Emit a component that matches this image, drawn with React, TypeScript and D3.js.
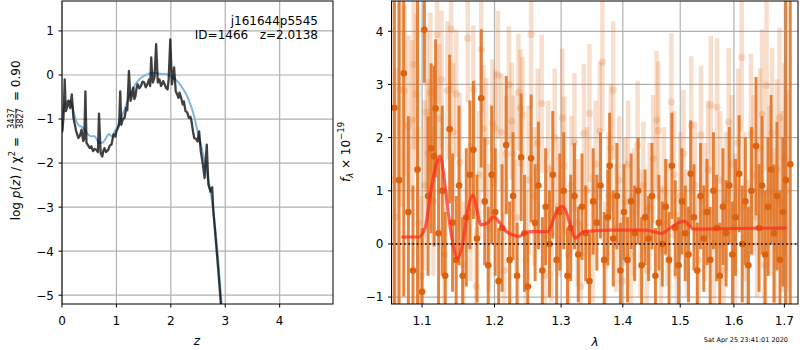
import React from 'react'
import * as d3 from 'd3'

// ---- left panel: log p(z) ----
const zBlack = [0.0, 0.01, 0.03, 0.05, 0.07, 0.09, 0.12, 0.15, 0.18, 0.21, 0.24, 0.26, 0.28, 0.30, 0.33, 0.36, 0.39, 0.41, 0.43, 0.45, 0.48, 0.51, 0.54, 0.57, 0.60, 0.63, 0.66, 0.68, 0.71, 0.74, 0.76, 0.78, 0.81, 0.85, 0.88, 0.91, 0.93, 0.95, 0.98, 1.00, 1.03, 1.05, 1.07, 1.09, 1.12, 1.15, 1.18, 1.20, 1.23, 1.26, 1.28, 1.31, 1.33, 1.35, 1.37, 1.39, 1.42, 1.45, 1.48, 1.51, 1.54, 1.57, 1.60, 1.62, 1.64, 1.66, 1.67, 1.70, 1.73, 1.76, 1.79, 1.82, 1.86, 1.89, 1.91, 1.94, 1.96, 1.99, 2.02, 2.04, 2.06, 2.09, 2.12, 2.14, 2.16, 2.18, 2.22, 2.24, 2.27, 2.30, 2.33, 2.36, 2.38, 2.41, 2.43, 2.46, 2.49, 2.52, 2.55, 2.59, 2.62, 2.66, 2.69, 2.73, 2.76, 2.78, 2.85, 2.92, 3.0]
const pzBlack = [-1.3, -1.24, -0.9, -0.1, -0.82, -0.75, -0.59, -0.75, -0.44, -0.97, -1.15, -1.28, -1.35, -1.43, -1.38, -1.24, -1.5, -1.45, -0.37, -1.54, -1.6, -1.66, -1.62, -1.73, -1.68, -1.7, -1.75, -0.88, -1.77, -1.85, -1.72, -1.66, -1.75, -1.7, -1.6, -1.58, -1.45, -1.35, -1.4, -1.28, -1.2, -1.13, -0.37, -1.13, -1.0, -0.97, -0.75, -0.8, 0.09, -0.59, -0.5, -0.29, -0.55, -0.48, -0.3, -0.21, -0.3, -0.25, -0.15, -0.17, -0.28, -0.21, -0.1, -0.25, 0.4, -0.1, -0.17, -0.05, 0.7, -0.17, -0.1, -0.25, -0.14, -0.22, -0.29, -0.33, -0.1, 0.81, -0.21, -0.05, 0.17, -0.37, -0.45, -0.52, -0.4, -0.48, -0.67, -0.6, -0.82, -0.85, -0.97, -0.95, -1.05, -1.3, -1.43, -1.45, -1.51, -1.28, -1.73, -2.04, -2.34, -1.58, -2.49, -2.65, -2.55, -3.07, -4.1, -5.2, -6.4]

const zBlue = [0.0, 0.01, 0.05, 0.12, 0.18, 0.24, 0.30, 0.39, 0.48, 0.54, 0.60, 0.64, 0.69, 0.74, 0.81, 0.86, 0.91, 0.97, 1.06, 1.15, 1.24, 1.33, 1.42, 1.51, 1.60, 1.70, 1.79, 1.91, 2.03, 2.12, 2.21, 2.30, 2.36, 2.43, 2.49, 2.55, 2.61, 2.67, 2.73, 2.80, 2.87, 2.94, 3.0]
const pzBlue = [-0.95, -0.9, -0.67, -0.58, -0.67, -0.97, -1.13, -1.2, -1.35, -1.39, -1.39, -1.47, -1.54, -1.54, -1.43, -1.34, -1.39, -1.28, -1.05, -0.78, -0.48, -0.25, -0.1, -0.02, 0.03, 0.05, 0.03, 0.02, -0.05, -0.14, -0.29, -0.48, -0.67, -0.94, -1.28, -1.58, -1.89, -2.27, -2.65, -3.3, -4.2, -5.3, -6.2]

const zTicks = [0, 1, 2, 3, 4]
const pzTicks = [-5, -4, -3, -2, -1, 0, 1]

// ---- right panel: spectrum ----
const darkWave = [1.064, 1.070, 1.076, 1.082, 1.088, 1.094, 1.100, 1.103, 1.108, 1.112, 1.116, 1.118, 1.122, 1.127, 1.131, 1.137, 1.141, 1.146, 1.150, 1.155, 1.160, 1.165, 1.170, 1.175, 1.181, 1.186, 1.191, 1.196, 1.201, 1.206, 1.211, 1.217, 1.222, 1.227, 1.233, 1.239, 1.244, 1.249, 1.254, 1.260, 1.265, 1.271, 1.276, 1.282, 1.287, 1.293, 1.298, 1.304, 1.310, 1.315, 1.321, 1.327, 1.333, 1.339, 1.345, 1.351, 1.357, 1.363, 1.369, 1.375, 1.378, 1.384, 1.390, 1.396, 1.402, 1.408, 1.414, 1.420, 1.426, 1.432, 1.438, 1.444, 1.450, 1.456, 1.462, 1.468, 1.474, 1.480, 1.485, 1.491, 1.497, 1.503, 1.509, 1.515, 1.519, 1.525, 1.531, 1.537, 1.543, 1.549, 1.555, 1.561, 1.567, 1.573, 1.579, 1.585, 1.591, 1.597, 1.603, 1.610, 1.616, 1.622, 1.628, 1.634, 1.643, 1.649, 1.655, 1.661, 1.667, 1.673, 1.679, 1.685, 1.691, 1.697, 1.703, 1.712]
const darkFlux = [2.56, 1.2, 3.21, 0.6, -0.5, 1.4, -0.9, 4.03, 0.9, 1.8, 1.65, 2.55, 0.2, 1.0, -0.6, 2.16, 0.4, -0.3, 1.1, -0.6, 0.5, 1.3, 1.77, 0.1, 2.74, 0.8, -0.4, 1.3, 0.6, -0.7, 0.3, 1.86, -0.3, 0.9, -0.6, 1.63, 0.2, -0.8, 1.61, 0.4, 1.1, -0.5, 0.7, 0.0, 1.3, -0.3, 0.6, 1.0, -0.6, 0.3, 0.9, -0.2, 0.7, 0.2, -0.7, 0.8, 0.4, 1.1, -0.3, 0.5, 1.47, 0.1, 0.9, -0.5, 0.6, -0.3, 0.8, 0.2, 1.0, -0.4, 0.5, 0.1, 0.9, -0.6, 0.4, 0.0, 0.7, -0.3, 1.47, 0.3, -0.4, 0.8, 0.2, -0.2, 1.32, 0.5, -0.5, 0.9, 0.1, 0.6, -0.3, 1.0, 0.3, -0.6, 0.7, 0.2, 1.1, -0.2, 0.5, 1.32, 0.0, 0.8, -0.4, 1.0, 1.84, 0.3, 1.1, -0.2, 0.7, 1.4, 0.2, 0.9, -0.3, 0.6, 1.2, 1.5]
const darkErr = [4.0, 3.8, 4.2, 1.8, 1.6, 3.5, 1.2, 1.0, 1.5, 1.6, 1.7, 1.3, 1.4, 1.6, 1.2, 1.4, 1.3, 1.2, 1.5, 1.1, 1.3, 1.4, 1.3, 1.2, 1.3, 1.2, 1.1, 1.3, 1.2, 1.0, 1.2, 1.3, 1.1, 1.2, 1.0, 1.2, 1.1, 1.0, 1.2, 1.1, 1.2, 1.0, 1.1, 1.0, 1.2, 1.0, 1.1, 1.1, 0.9, 1.0, 1.0, 0.9, 1.0, 0.9, 0.9, 1.0, 0.9, 1.0, 0.9, 0.9, 1.0, 0.9, 1.0, 0.9, 0.9, 0.8, 0.9, 0.9, 1.0, 0.9, 0.9, 0.8, 1.0, 0.9, 0.9, 0.8, 0.9, 0.9, 1.0, 0.9, 0.9, 1.0, 0.9, 0.9, 1.0, 1.0, 0.9, 1.0, 1.0, 1.0, 1.0, 1.1, 1.0, 1.0, 1.1, 1.0, 1.1, 1.0, 1.1, 1.1, 1.1, 1.2, 1.1, 1.2, 1.3, 1.2, 1.3, 1.2, 1.3, 1.4, 1.3, 1.4, 1.3, 1.4, 6.0, 6.0]

const paleWave = [1.061, 1.066, 1.071, 1.077, 1.082, 1.087, 1.089, 1.092, 1.095, 1.099, 1.103, 1.106, 1.108, 1.111, 1.115, 1.120, 1.123, 1.126, 1.130, 1.134, 1.139, 1.142, 1.146, 1.151, 1.156, 1.162, 1.166, 1.170, 1.174, 1.178, 1.181, 1.184, 1.188, 1.192, 1.197, 1.201, 1.205, 1.210, 1.214, 1.217, 1.221, 1.225, 1.228, 1.232, 1.235, 1.238, 1.241, 1.246, 1.250, 1.254, 1.259, 1.264, 1.270, 1.275, 1.280, 1.285, 1.290, 1.296, 1.302, 1.305, 1.311, 1.316, 1.321, 1.326, 1.331, 1.336, 1.341, 1.345, 1.350, 1.355, 1.362, 1.366, 1.371, 1.376, 1.380, 1.384, 1.389, 1.394, 1.399, 1.404, 1.409, 1.414, 1.419, 1.425, 1.430, 1.435, 1.441, 1.446, 1.452, 1.458, 1.461, 1.466, 1.471, 1.477, 1.484, 1.489, 1.494, 1.500, 1.506, 1.512, 1.520, 1.527, 1.533, 1.538, 1.545, 1.551, 1.556, 1.562, 1.568, 1.574, 1.580, 1.585, 1.590, 1.596, 1.602, 1.608, 1.615, 1.620, 1.626, 1.633, 1.638, 1.645, 1.651, 1.655, 1.660, 1.664, 1.670, 1.675, 1.680, 1.685, 1.690, 1.695, 1.700, 1.706]
const paleFlux = [1.2, 0.5, 2.9, 2.88, 2.22, 2.33, 3.38, 2.83, 0.4, -0.6, 1.1, 2.48, 1.7, 2.85, 0.8, 3.94, 2.36, 3.09, -0.2, 2.89, 4.04, 2.11, 2.83, 1.54, -0.4, 3.87, 0.6, 2.91, -0.8, 1.3, 3.66, 2.17, 1.92, 0.3, 2.27, 2.18, 3.18, 2.1, -0.5, 1.69, 2.99, 2.31, 1.69, 0.5, 2.85, 2.56, 2.42, -0.3, 1.2, 3.94, 0.9, 1.9, 2.64, -0.6, 1.4, 0.2, 2.0, 0.7, 2.37, 1.47, -0.2, 1.1, 1.91, 0.4, -0.8, 2.08, 1.0, 2.46, 0.1, 1.5, 2.12, 3.42, -0.4, 0.9, 1.8, 2.89, 0.3, 1.2, -0.7, 0.8, 1.5, -0.2, 0.6, 1.86, 0.2, 1.1, -0.5, 0.7, 1.6, 2.33, 2.13, -0.1, 1.0, 0.4, 2.67, 1.3, -0.6, 0.9, 1.7, 0.2, 2.23, 1.1, -0.3, 2.05, 0.6, 1.4, 2.61, 0.0, 2.57, 1.2, -0.5, 0.8, 2.29, 1.5, 0.3, 1.9, 3.51, 0.7, -0.2, 2.08, 1.3, 0.5, 1.8, 2.44, -0.4, 2.98, 1.0, 2.09, 0.2, 1.4, 2.37, 0.8, 1.6, 1.0]
const paleErr = [4.5, 2.8, 2.2, 1.6, 1.7, 1.5, 1.6, 1.5, 1.8, 1.5, 1.6, 1.5, 1.4, 1.5, 1.4, 1.3, 1.4, 1.3, 1.3, 1.3, 1.2, 1.3, 1.2, 1.3, 1.2, 1.2, 1.3, 1.2, 1.1, 1.2, 1.2, 1.2, 1.2, 1.2, 1.2, 1.1, 1.2, 1.1, 1.1, 1.1, 1.1, 1.1, 1.1, 1.1, 1.1, 1.1, 1.1, 1.3, 1.4, 1.4, 1.3, 1.4, 1.3, 1.3, 1.3, 1.3, 1.3, 1.3, 1.3, 1.3, 1.2, 1.3, 1.3, 1.2, 1.2, 1.3, 1.2, 1.3, 1.2, 1.2, 1.3, 1.3, 1.2, 1.2, 1.2, 1.3, 1.2, 1.2, 1.2, 1.2, 1.2, 1.1, 1.2, 1.2, 1.2, 1.2, 1.2, 1.2, 1.2, 1.3, 1.3, 1.2, 1.2, 1.2, 1.3, 1.2, 1.2, 1.2, 1.2, 1.2, 1.3, 1.2, 1.2, 1.3, 1.3, 1.3, 1.3, 1.3, 1.3, 1.3, 1.3, 1.3, 1.4, 1.3, 1.4, 1.4, 1.4, 1.4, 1.4, 1.5, 1.5, 1.5, 1.5, 1.6, 1.5, 1.6, 1.6, 1.6, 1.6, 1.7, 1.7, 1.7, 1.8, 1.9]

const modelWave = [1.073, 1.095, 1.104, 1.112, 1.118, 1.124, 1.128, 1.132, 1.139, 1.148, 1.155, 1.162, 1.169, 1.176, 1.180, 1.190, 1.198, 1.208, 1.215, 1.227, 1.236, 1.245, 1.255, 1.279, 1.294, 1.302, 1.308, 1.315, 1.322, 1.336, 1.378, 1.440, 1.466, 1.486, 1.507, 1.524, 1.600, 1.705]
const modelFlux = [0.13, 0.13, 0.30, 1.02, 1.45, 1.65, 1.4, 0.95, 0.2, -0.27, 0.01, 0.64, 0.92, 0.58, 0.36, 0.39, 0.51, 0.39, 0.26, 0.17, 0.14, 0.21, 0.23, 0.23, 0.64, 0.70, 0.6, 0.33, 0.11, 0.23, 0.26, 0.26, 0.20, 0.33, 0.43, 0.28, 0.29, 0.30]

const waveTicks = [1.1, 1.2, 1.3, 1.4, 1.5, 1.6, 1.7]
const fluxTicks = [-1, 0, 1, 2, 3, 4]

const L = { x0: 62, x1: 333, y0: 1, y1: 304 }
const R = { x0: 391.5, x1: 798, y0: 1, y1: 304 }
const font = 'DejaVu Sans'
const fs = 12
const grid = '#b0b0b0'
const orange = '#e06f1c'
const minus = (v: number) => String(v).replace('-', '\u2212')

const App = () => {
  const xL = d3.scaleLinear().domain([0, 4.98]).range([L.x0, L.x1])
  const yL = d3.scaleLinear().domain([-5.2, 1.68]).range([L.y1, L.y0])
  const xR = d3.scaleLog().domain([1.0603, 1.728]).range([R.x0, R.x1])
  const yR = d3.scaleLinear().domain([-1.13, 4.57]).range([R.y1, R.y0])

  const lineL = d3.line<[number, number]>().x(d => xL(d[0])).y(d => yL(d[1]))
  const blackPath = lineL(zBlack.map((z, i) => [z, pzBlack[i]]))
  const bluePath = lineL.curve(d3.curveMonotoneX)(zBlue.map((z, i) => [z, pzBlue[i]]))
  const modelPath = d3.line<[number, number]>()
    .x(d => xR(d[0])).y(d => yR(d[1])).curve(d3.curveMonotoneX)(modelWave.map((w, i) => [w, modelFlux[i]]))

  return (
    <svg width={800} height={350} style={{ position: 'absolute', left: 0, top: 0 }} fontFamily={font}>
      <defs>
        <clipPath id="clipL"><rect x={L.x0} y={L.y0} width={L.x1 - L.x0} height={L.y1 - L.y0} /></clipPath>
        <clipPath id="clipR"><rect x={R.x0} y={R.y0} width={R.x1 - R.x0} height={R.y1 - R.y0} /></clipPath>
      </defs>
      <rect width={800} height={350} fill="white" />

      {/* left panel */}
      <g>
        {zTicks.map(t => <line key={'gx' + t} x1={xL(t)} x2={xL(t)} y1={L.y0} y2={L.y1} stroke={grid} strokeWidth={1.2} />)}
        {pzTicks.map(t => <line key={'gy' + t} x1={L.x0} x2={L.x1} y1={yL(t)} y2={yL(t)} stroke={grid} strokeWidth={1.2} />)}
        <g clipPath="url(#clipL)">
          <path d={bluePath || ''} fill="none" stroke="#7fb5dc" strokeWidth={2} />
          <path d={blackPath || ''} fill="none" stroke="#000" strokeOpacity={0.75} strokeWidth={2.3} strokeLinejoin="round" />
        </g>
        <rect x={L.x0} y={L.y0} width={L.x1 - L.x0} height={L.y1 - L.y0} fill="none" stroke="#000" strokeWidth={1} />
        {zTicks.map(t => (
          <g key={'tx' + t}>
            <line x1={xL(t)} x2={xL(t)} y1={L.y1} y2={L.y1 + 3.5} stroke="#000" />
            <text x={xL(t)} y={325} fontSize={fs} textAnchor="middle">{t}</text>
          </g>
        ))}
        {pzTicks.map(t => (
          <g key={'ty' + t}>
            <line x1={L.x0 - 3.5} x2={L.x0} y1={yL(t)} y2={yL(t)} stroke="#000" />
            <text x={L.x0 - 8} y={yL(t) + 4.4} fontSize={fs} textAnchor="end">{minus(t)}</text>
          </g>
        ))}
        <text x={318} y={25} fontSize={fs} textAnchor="end">j161644p5545</text>
        <text x={318} y={39} fontSize={fs} textAnchor="end" xmlSpace="preserve">ID=1466   z=2.0138</text>
        <text x={197} y={345} fontSize={fs} textAnchor="middle" fontStyle="italic">z</text>
        <g transform="translate(20,152) rotate(-90)" fontSize={fs}>
          <text x={15} y={0} textAnchor="end">
            log <tspan fontStyle="italic">p</tspan>(<tspan fontStyle="italic">z</tspan>) / χ<tspan dy={-5} fontSize={8.5}>2</tspan><tspan dy={5}> =</tspan>
          </text>
          <text x={33.5} y={-6} fontSize={8} textAnchor="middle">3437</text>
          <line x1={23.5} x2={43.5} y1={-4.2} y2={-4.2} stroke="#000" strokeWidth={0.7} />
          <text x={33.5} y={2.5} fontSize={8} textAnchor="middle">3827</text>
          <text x={51} y={0} textAnchor="start">= 0.90</text>
        </g>
      </g>

      {/* right panel */}
      <g>
        {waveTicks.map(t => <line key={'gx' + t} x1={xR(t)} x2={xR(t)} y1={R.y0} y2={R.y1} stroke={grid} strokeWidth={1.2} />)}
        {fluxTicks.map(t => <line key={'gy' + t} x1={R.x0} x2={R.x1} y1={yR(t)} y2={yR(t)} stroke={grid} strokeWidth={1.2} />)}
        <g clipPath="url(#clipR)">
          {paleWave.map((w, i) => (
            <line key={'pb' + i} x1={xR(w)} x2={xR(w)} y1={yR(paleFlux[i] - paleErr[i])} y2={yR(paleFlux[i] + paleErr[i])}
              stroke={orange} strokeOpacity={0.22} strokeWidth={4.5} />
          ))}
          {paleWave.map((w, i) => (
            <circle key={'pc' + i} cx={xR(w)} cy={yR(paleFlux[i])} r={3.6} fill={orange} fillOpacity={0.22} />
          ))}
          {darkWave.map((w, i) => (
            <line key={'db' + i} x1={xR(w)} x2={xR(w)} y1={yR(darkFlux[i] - darkErr[i])} y2={yR(darkFlux[i] + darkErr[i])}
              stroke={orange} strokeOpacity={0.85} strokeWidth={3} />
          ))}
          {darkWave.map((w, i) => (
            <circle key={'dc' + i} cx={xR(w)} cy={yR(darkFlux[i])} r={3.3} fill="#dc620e" />
          ))}
          <path d={modelPath || ''} fill="none" stroke="#ff2d1e" strokeOpacity={0.75} strokeWidth={3.2} strokeLinejoin="round" />
          <line x1={R.x0} x2={R.x1} y1={yR(0)} y2={yR(0)} stroke="#000" strokeWidth={1.6} strokeDasharray="1.6,2.6" />
        </g>
        <rect x={R.x0} y={R.y0} width={R.x1 - R.x0} height={R.y1 - R.y0} fill="none" stroke="#000" strokeWidth={1} />
        {waveTicks.map(t => (
          <g key={'tx' + t}>
            <line x1={xR(t)} x2={xR(t)} y1={R.y1} y2={R.y1 + 3.5} stroke="#000" />
            <text x={xR(t)} y={325} fontSize={fs} textAnchor="middle">{t.toFixed(1)}</text>
          </g>
        ))}
        {fluxTicks.map(t => (
          <g key={'ty' + t}>
            <line x1={R.x0 - 3.5} x2={R.x0} y1={yR(t)} y2={yR(t)} stroke="#000" />
            <text x={R.x0 - 8} y={yR(t) + 4.4} fontSize={fs} textAnchor="end">{minus(t)}</text>
          </g>
        ))}
        <text x={595} y={346} fontSize={fs} textAnchor="middle" fontStyle="italic">λ</text>
        <g transform="translate(350,152) rotate(-90)" fontSize={fs}>
          <text x={0} y={0} textAnchor="middle">
            <tspan fontStyle="italic">f</tspan><tspan fontStyle="italic" fontSize={8.5} dy={3}>λ</tspan><tspan dy={-3}> × 10</tspan><tspan fontSize={8.5} dy={-6}>−19</tspan>
          </text>
        </g>
        <text x={788} y={342} fontSize={6.5} textAnchor="end">Sat Apr 25 23:41:01 2020</text>
      </g>
    </svg>
  )
}

export default App
